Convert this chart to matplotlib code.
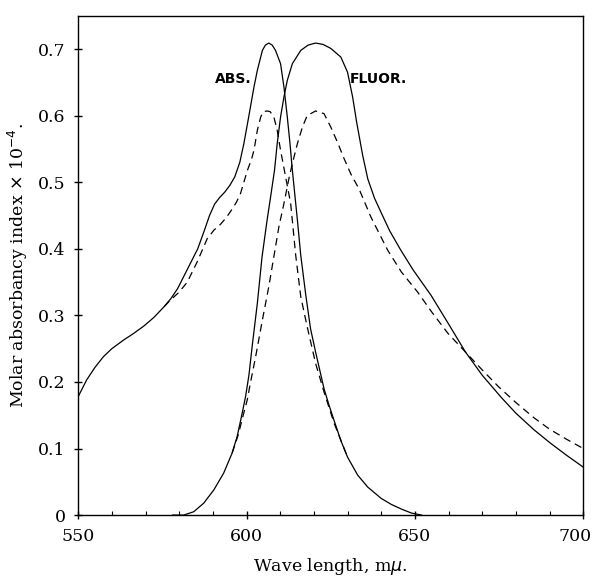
import matplotlib.pyplot as plt
import matplotlib.transforms as mtransforms
from matplotlib.ticker import MultipleLocator, FixedFormatter, FixedLocator

# absorption, solid
abs_x = [550, 552.5, 555, 557.5, 560, 563.5, 566.5, 569.5, 572.5, 575.5, 577.5, 579.5,
         581, 582.5, 584, 585.5, 587.5, 589, 590.5, 592, 593.5, 595, 596.5, 598,
         599.2, 600.7, 602.2, 603.2, 604.7, 605.6, 606.6, 607.6, 608.6, 610.1, 611.1,
         612.1, 612.9, 613.6, 615.1, 616.1, 617.6, 619, 620.5, 621.5, 623, 624.5,
         626, 628, 630, 633, 636, 640, 643, 646, 649, 652]
abs_y = [0.178, 0.203, 0.222, 0.238, 0.25, 0.263, 0.273, 0.284, 0.297, 0.313, 0.325,
         0.34, 0.355, 0.37, 0.385, 0.4, 0.428, 0.45, 0.467, 0.477, 0.485, 0.495, 0.508,
         0.53, 0.558, 0.6, 0.643, 0.668, 0.698, 0.706, 0.709, 0.706, 0.698, 0.678,
         0.643, 0.598, 0.558, 0.518, 0.443, 0.39, 0.33, 0.28, 0.245, 0.223, 0.19,
         0.165, 0.142, 0.112, 0.087, 0.06, 0.042, 0.025, 0.016, 0.009, 0.003, 0.0]

# absorption, dashed
abs_d_x = [575.5, 577.4, 580, 582.4, 585.3, 588.3, 590.3, 592.3, 594, 595.5, 597,
           598.2, 599.2, 600.2, 601.5, 602.2, 603.2, 604.2, 605, 606.1, 607, 608.1,
           609.1, 610.1, 611.6, 613.1, 614.6, 616.1, 618, 620.5, 623, 626, 630]
abs_d_y = [0.313, 0.323, 0.335, 0.35, 0.38, 0.415, 0.428, 0.437, 0.447, 0.458, 0.47,
           0.483, 0.5, 0.517, 0.535, 0.548, 0.578, 0.598, 0.606, 0.607, 0.606, 0.598,
           0.578, 0.548, 0.508, 0.468, 0.39, 0.328, 0.283, 0.228, 0.185, 0.138, 0.087]

# fluorescence, solid
fl_x = [578, 581.3, 584.3, 587.3, 590.3, 593.2, 595.7, 597.2, 598.7, 599.7, 600.7,
        601.7, 603.2, 604.6, 606.1, 607.2, 608.3, 609.1, 610.1, 611.1, 612.1, 613.6,
        616.1, 618.3, 620.5, 622.7, 625, 628, 630, 631.5, 632.7, 634.5, 636, 638, 640,
        642.5, 645.8, 649.5, 654.8, 660, 665, 670, 675.6, 680, 685.4, 690, 695, 700]
fl_y = [0.0, 0.0, 0.005, 0.018, 0.038, 0.063, 0.093, 0.118, 0.153, 0.178, 0.21,
        0.255, 0.318, 0.388, 0.443, 0.48, 0.518, 0.558, 0.598, 0.628, 0.653, 0.678,
        0.698, 0.706, 0.709, 0.707, 0.701, 0.688, 0.665, 0.628, 0.59, 0.54, 0.505,
        0.476, 0.454, 0.427, 0.398, 0.368, 0.33, 0.287, 0.245, 0.21, 0.177, 0.153,
        0.128, 0.109, 0.09, 0.072]

# fluorescence, dashed
fl_d_x = [595.7, 597.5, 599, 600.2, 601.2, 602.7, 604.7, 606.6, 608.1, 609.6, 611.1,
          612.6, 613.6, 615.1, 616.6, 618, 620.5, 623, 625, 627, 629, 631, 633.4,
          636.9, 641.9, 646, 650.8, 655, 659.8, 665, 670, 675, 680, 685.4, 690, 695, 700]
fl_d_y = [0.093, 0.12, 0.15, 0.173, 0.2, 0.238, 0.293, 0.343, 0.388, 0.433, 0.468,
          0.506, 0.528, 0.558, 0.583, 0.6, 0.607, 0.603, 0.583, 0.56, 0.535, 0.512,
          0.49, 0.448, 0.398, 0.365, 0.335, 0.305, 0.273, 0.245, 0.218, 0.192, 0.169,
          0.146, 0.129, 0.114, 0.1]

x_ticks = [550, 600, 650, 700]
y_ticks = [0, 0.1, 0.2, 0.3, 0.4, 0.5, 0.6, 0.7]
y_labels = ['0', '0.1', '0.2', '0.3', '0.4', '0.5', '0.6', '0.7']

plt.rcParams['font.family'] = 'DejaVu Serif'

fig = plt.figure(figsize=(5.97, 5.84), dpi=100)
ax = fig.add_axes([0.131, 0.118, 0.846, 0.855])

dash = (0, (6, 4))
ax.plot(abs_x, abs_y, color='black', lw=0.9)
ax.plot(abs_d_x, abs_d_y, color='black', lw=0.9, ls=dash)
ax.plot(fl_x, fl_y, color='black', lw=0.9)
ax.plot(fl_d_x, fl_d_y, color='black', lw=0.9, ls=dash)

ax.set_xlim(550, 700)
ax.set_ylim(0, 0.75)
ax.xaxis.set_major_locator(FixedLocator(x_ticks))
ax.xaxis.set_minor_locator(MultipleLocator(10))
ax.yaxis.set_major_locator(FixedLocator(y_ticks))
ax.yaxis.set_major_formatter(FixedFormatter(y_labels))
ax.tick_params(which='major', direction='inout', length=6, width=1, labelsize=12.5,
               top=False, right=False, pad=6)
ax.tick_params(which='minor', direction='in', length=3, width=0.8, top=False)

for s in ax.spines.values():
    s.set_linewidth(1.0)

ax.set_xlabel('Wave length, m$\\mu$.', fontsize=12.5, labelpad=8)
ax.set_ylabel('Molar absorbancy index $\\times$ 10$^{-4}$.', fontsize=12.5, labelpad=6)

# last x label sits a bit left of its tick in the original
fig.canvas.draw()
last = ax.get_xticklabels()[-1]
last.set_transform(last.get_transform() +
                   mtransforms.ScaledTranslation(-0.08, 0, fig.dpi_scale_trans))

ax.text(596, 0.655, 'ABS.', family='DejaVu Sans', weight='bold', fontsize=10,
        ha='center', va='center')
ax.text(630.5, 0.655, 'FLUOR.', family='DejaVu Sans', weight='bold', fontsize=10,
        ha='left', va='center')

fig.savefig('out.png', dpi=100)
